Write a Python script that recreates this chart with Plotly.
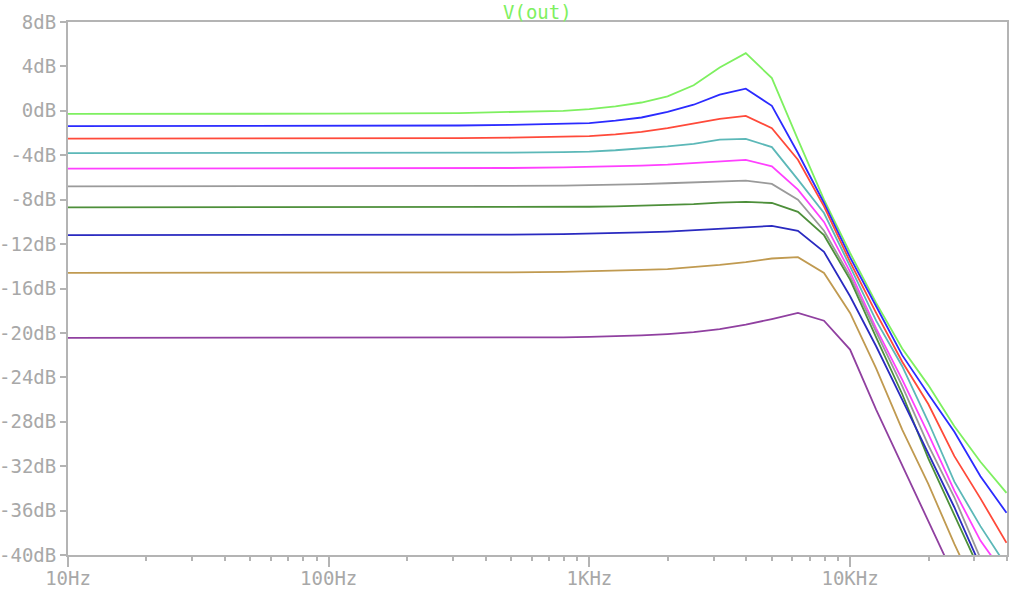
import plotly.graph_objects as go

# Frequencies (Hz)
freqs = [10, 31.6, 100, 316, 501, 794, 1000, 1259, 1585, 1995, 2512, 3162, 3981,
         5012, 6310, 7943, 10000, 12589, 15849, 19953, 25119, 31623, 39811]

# Magnitude (dB) per trace
v_green = [-0.27, -0.27, -0.26, -0.2, -0.13, 0.0, 0.15, 0.4, 0.75, 1.3, 2.3, 3.9, 5.2,
           2.95, -2.6, -8.0, -12.8, -17.3, -21.4, -24.7, -28.4, -31.6, -34.4]
v_blue = [-1.38, -1.38, -1.37, -1.32, -1.27, -1.2, -1.1, -0.88, -0.6, -0.1, 0.55, 1.45, 2.0,
          0.45, -3.8, -8.3, -13.2, -17.6, -22.0, -25.5, -28.9, -32.9, -36.2]
v_red = [-2.5, -2.5, -2.49, -2.46, -2.42, -2.36, -2.28, -2.12, -1.9, -1.55, -1.1, -0.72, -0.45,
         -1.56, -4.4, -8.6, -13.6, -18.2, -22.6, -26.4, -31.1, -34.9, -38.9]
v_teal = [-3.8, -3.8, -3.8, -3.79, -3.76, -3.72, -3.67, -3.55, -3.4, -3.2, -2.97, -2.6, -2.52,
          -3.27, -6.2, -9.2, -14.0, -18.9, -23.0, -28.0, -33.4, -37.4, -41.0]
v_magenta = [-5.2, -5.2, -5.2, -5.18, -5.15, -5.1, -5.06, -5.0, -4.93, -4.85, -4.7, -4.5, -4.41,
             -5.0, -7.1, -10.0, -14.5, -19.6, -24.2, -29.1, -34.2, -38.7, -42.0]
v_gray = [-6.8, -6.8, -6.8, -6.78, -6.76, -6.73, -6.7, -6.65, -6.6, -6.52, -6.45, -6.32, -6.28,
          -6.58, -8.0, -10.8, -14.9, -19.9, -24.8, -30.1, -34.8, -40.3, -44.0]
v_dkgreen = [-8.7, -8.7, -8.7, -8.69, -8.68, -8.67, -8.64, -8.6, -8.55, -8.48, -8.4, -8.27, -8.2,
             -8.3, -9.1, -11.2, -15.2, -20.4, -25.5, -31.3, -36.4, -41.5, -45.0]
v_dkblue = [-11.2, -11.2, -11.2, -11.18, -11.15, -11.1, -11.07, -11.02, -10.95, -10.87, -10.75, -10.6, -10.45,
            -10.36, -10.8, -12.7, -16.7, -21.2, -26.0, -30.8, -35.7, -41.0, -45.0]
v_tan = [-14.6, -14.6, -14.6, -14.58, -14.55, -14.5, -14.46, -14.4, -14.33, -14.25, -14.08, -13.87, -13.62,
         -13.3, -13.18, -14.6, -18.2, -23.2, -28.7, -33.6, -39.0, -44.0, -48.0]
v_purple = [-20.45, -20.45, -20.45, -20.43, -20.42, -20.4, -20.36, -20.3, -20.22, -20.1, -19.93, -19.65, -19.25,
            -18.75, -18.2, -18.9, -21.5, -26.9, -31.9, -37.0, -42.0, -47.0, -52.0]

series = [v_green, v_blue, v_red, v_teal, v_magenta, v_gray, v_dkgreen, v_dkblue, v_tan, v_purple]
colors = ["#7ef060", "#2b2bff", "#ff4a3a", "#5cb8b8", "#ff40ff", "#9a9a9a",
          "#4d8f3a", "#2a2ac0", "#c09a50", "#9040a0"]

x_tickvals = [10, 100, 1000, 10000]
x_ticktext = ["10Hz", "100Hz", "1KHz", "10KHz"]
x_minor = [m * d for d in [10, 100, 1000, 10000] for m in range(2, 10) if m * d <= 40000]
y_tickvals = [8, 4, 0, -4, -8, -12, -16, -20, -24, -28, -32, -36, -40]
y_ticktext = [f"{v}dB" for v in y_tickvals]

fig = go.Figure()
for vals, col in zip(series, colors):
    fig.add_trace(go.Scatter(x=freqs, y=vals, mode="lines",
                             line=dict(color=col, width=1.8), showlegend=False))

axis_col = "#b4b4b4"
fig.update_layout(
    width=1024, height=590,
    margin=dict(l=68, r=17, t=22, b=35),
    paper_bgcolor="white", plot_bgcolor="white",
    font=dict(family="DejaVu Sans Mono", size=19, color="#a8a8a8"),
    showlegend=False,
)
fig.update_xaxes(
    type="log", range=[1, 4.602], automargin=False,
    tickmode="array", tickvals=x_tickvals, ticktext=x_ticktext,
    ticks="outside", ticklen=10, tickwidth=1.5, tickcolor=axis_col,
    ticklabelstandoff=-5,
    minor=dict(tickmode="array", tickvals=x_minor, ticks="outside", ticklen=4,
               tickcolor=axis_col, tickwidth=1.5, showgrid=False),
    showline=True, linecolor=axis_col, linewidth=2, mirror=True,
    showgrid=False, zeroline=False,
)
fig.update_yaxes(
    range=[-40, 8], automargin=False,
    tickmode="array", tickvals=y_tickvals, ticktext=y_ticktext,
    ticks="outside", ticklen=6, tickwidth=1.5, tickcolor=axis_col,
    showline=True, linecolor=axis_col, linewidth=2, mirror=True,
    showgrid=False, zeroline=False,
)
fig.add_annotation(text="V(out)", x=0.5, y=1, xref="paper", yref="paper",
                   xanchor="center", yanchor="bottom", showarrow=False,
                   font=dict(family="DejaVu Sans Mono", size=19, color="#7ef060"),
                   yshift=-3)

fig.write_html("out.html", config={"displayModeBar": False},
               post_script="document.body.style.margin='0';document.body.style.overflow='hidden';")
